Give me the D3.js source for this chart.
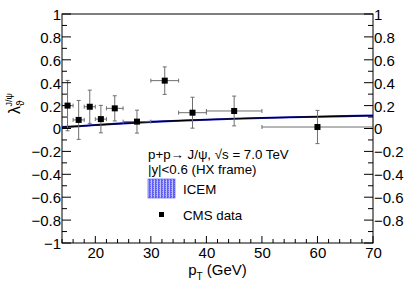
<!DOCTYPE html>
<html>
<head>
<meta charset="utf-8">
<script src="https://cdn.jsdelivr.net/npm/d3@7"></script>
<style>
  body { margin: 0; background: #fff; }
  svg { display: block; font-family: "Liberation Sans", Arial, sans-serif; }
</style>
</head>
<body>
<svg id="chart" width="415" height="284"></svg>
<script>
// CMS data, |y|<0.6, HX frame
const cmsPt = [15, 17, 19, 21, 23.5, 27.5, 32.5, 37.5, 45, 60];
const cmsPtLow = [14, 16, 18, 20, 22, 25, 30, 35, 40, 50];
const cmsPtHigh = [16, 18, 20, 22, 25, 30, 35, 40, 50, 70];
const cmsLambda = [0.20, 0.075, 0.19, 0.082, 0.176, 0.06, 0.418, 0.138, 0.153, 0.013];
const cmsErr = [0.22, 0.17, 0.145, 0.12, 0.11, 0.1, 0.12, 0.135, 0.13, 0.145];

// ICEM curve
const icemPt = [14, 17, 20, 25, 30, 35, 40, 45, 50, 55, 60, 65, 70];
const icemLambda = [0.012, 0.02, 0.03, 0.045, 0.058, 0.068, 0.077, 0.085, 0.092, 0.098, 0.103, 0.108, 0.113];
const icemHalfWidth = 0.009;

const xTicks = [20, 30, 40, 50, 60, 70];
const yTicksLeft = [-1, -0.8, -0.6, -0.4, -0.2, 0, 0.2, 0.4, 0.6, 0.8, 1];
const yTicksRight = [-0.8, -0.6, -0.4, -0.2, 0, 0.2, 0.4, 0.6, 0.8, 1];

const svg = d3.select("#chart");
const margins = { left: 62, right: 42, top: 14, bottom: 41 };
const W = 415, H = 284;

const xScale = d3.scaleLinear().domain([14, 70]).range([margins.left, W - margins.right]);
const yScale = d3.scaleLinear().domain([-1, 1]).range([H - margins.bottom, margins.top]);

const fmt = (d) => (d < 0 ? "\u2212" : "") + (Math.abs(d) === 0 || Math.abs(d) === 1 ? Math.abs(d) : Math.abs(d).toFixed(1));

// pattern for ICEM legend box
const defs = svg.append("defs");
const pat = defs.append("pattern")
    .attr("id", "icemFill")
    .attr("width", 3).attr("height", 2)
    .attr("patternUnits", "userSpaceOnUse");
pat.append("rect").attr("width", 3).attr("height", 2).attr("fill", "#6060f2");
pat.append("rect").attr("x", 1).attr("width", 1).attr("height", 2).attr("fill", "#c0c0ff");
pat.append("rect").attr("y", 1).attr("width", 1).attr("height", 1).attr("fill", "#9a9aff");

// frame
svg.append("rect")
    .attr("x", margins.left).attr("y", margins.top)
    .attr("width", W - margins.left - margins.right)
    .attr("height", H - margins.top - margins.bottom)
    .attr("fill", "none").attr("stroke", "#000").attr("stroke-width", 1);

// ICEM band + line
const icem = icemPt.map((p, i) => ({ pt: p, v: icemLambda[i] }));
svg.append("path")
    .datum(icem)
    .attr("fill", "#1818c8")
    .attr("d", d3.area()
        .x((d) => xScale(d.pt))
        .y0((d) => yScale(d.v - icemHalfWidth))
        .y1((d) => yScale(d.v + icemHalfWidth)));
svg.append("path")
    .datum(icem)
    .attr("fill", "none")
    .attr("stroke", "#000")
    .attr("stroke-width", 1.2)
    .attr("d", d3.line().x((d) => xScale(d.pt)).y((d) => yScale(d.v)));

// CMS points with error bars
const cms = cmsPt.map((p, i) => ({
    pt: p, lo: cmsPtLow[i], hi: cmsPtHigh[i], v: cmsLambda[i], e: cmsErr[i]
}));
const errColor = "#6e6e6e";
const pts = svg.append("g").attr("class", "cms");
cms.forEach((d) => {
    const g = pts.append("g");
    const cx = xScale(d.pt), cy = yScale(d.v);
    g.append("line").attr("x1", xScale(d.lo)).attr("x2", xScale(d.hi))
        .attr("y1", cy).attr("y2", cy).attr("stroke", errColor);
    g.append("line").attr("x1", cx).attr("x2", cx)
        .attr("y1", yScale(d.v - d.e)).attr("y2", yScale(d.v + d.e)).attr("stroke", errColor);
    // end caps
    [xScale(d.lo), xScale(d.hi)].forEach((x) => {
        g.append("line").attr("x1", x).attr("x2", x).attr("y1", cy - 2).attr("y2", cy + 2).attr("stroke", errColor);
    });
    [yScale(d.v - d.e), yScale(d.v + d.e)].forEach((y) => {
        g.append("line").attr("x1", cx - 2).attr("x2", cx + 2).attr("y1", y).attr("y2", y).attr("stroke", errColor);
    });
    g.append("rect").attr("x", cx - 3).attr("y", cy - 3).attr("width", 6).attr("height", 6).attr("fill", "#000");
});

// axes
const xAxisB = d3.axisBottom(xScale).tickValues(xTicks).tickSize(0).tickFormat(d3.format("d"));
const gx = svg.append("g").attr("transform", `translate(0,${H - margins.bottom})`).call(xAxisB);
gx.select(".domain").remove();
gx.selectAll("text").attr("font-size", 15).attr("y", 2).attr("dy", "0.88em").attr("fill", "#000");

const yAxisL = d3.axisLeft(yScale).tickValues(yTicksLeft).tickSize(0).tickFormat(fmt);
const gyl = svg.append("g").attr("transform", `translate(${margins.left},0)`).call(yAxisL);
gyl.select(".domain").remove();
gyl.selectAll("text").attr("font-size", 15).attr("x", -1).attr("dy", "0.36em").attr("fill", "#000");

const yAxisR = d3.axisRight(yScale).tickValues(yTicksRight).tickSize(0).tickFormat(fmt);
const gyr = svg.append("g").attr("transform", `translate(${W - margins.right},0)`).call(yAxisR);
gyr.select(".domain").remove();
gyr.selectAll("text").attr("font-size", 15).attr("x", 1).attr("dy", "0.36em").attr("fill", "#000");

// tick marks
const tickG = svg.append("g").attr("stroke", "#000").attr("stroke-width", 1);
d3.range(14, 70.01, 2).forEach((v) => {
    const len = v % 10 === 0 ? 7 : 4;
    const x = xScale(v);
    tickG.append("line").attr("x1", x).attr("x2", x)
        .attr("y1", H - margins.bottom).attr("y2", H - margins.bottom - len);
});
d3.range(-1, 1.001, 0.1).forEach((v) => {
    const major = Math.abs(Math.round(v * 10)) % 2 === 0;
    const len = major ? 9 : 5;
    const y = yScale(v);
    tickG.append("line").attr("x1", margins.left).attr("x2", margins.left + len).attr("y1", y).attr("y2", y);
    tickG.append("line").attr("x1", W - margins.right).attr("x2", W - margins.right - len).attr("y1", y).attr("y2", y);
});

// axis titles
const xt = svg.append("text").attr("x", xScale(42)).attr("y", 275).attr("text-anchor", "middle").attr("font-size", 15);
xt.append("tspan").text("p");
xt.append("tspan").attr("font-size", 10).attr("dy", 5).text("T");
xt.append("tspan").attr("dy", -5).text(" (GeV)");

const yt = svg.append("text")
    .attr("transform", "translate(20,93) rotate(-90)")
    .attr("text-anchor", "end").attr("font-size", 16);
yt.append("tspan").text("\u03bb");
yt.append("tspan").attr("font-size", 10).attr("dy", 4).text("\u03d1");
yt.append("tspan").attr("font-size", 9).attr("dx", -6).attr("dy", -12).text("J/\u03c8");

// annotation and legend
const lx = 148;
svg.append("text").attr("x", lx).attr("y", 159).attr("font-size", 13.3).text("p+p\u2192 J/\u03c8, \u221as = 7.0 TeV");
svg.append("text").attr("x", lx).attr("y", 174).attr("font-size", 13.3).text("|y|<0.6 (HX frame)");
svg.append("rect").attr("x", lx).attr("y", 179).attr("width", 27).attr("height", 19)
    .attr("fill", "url(#icemFill)").attr("stroke", "#4040e8").attr("stroke-width", 0.6);
svg.append("text").attr("x", 183).attr("y", 194).attr("font-size", 13.3).text("ICEM");
svg.append("rect").attr("x", 159).attr("y", 212).attr("width", 5).attr("height", 5).attr("fill", "#000");
svg.append("text").attr("x", 183).attr("y", 220).attr("font-size", 13.3).text("CMS data");
</script>
</body>
</html>
